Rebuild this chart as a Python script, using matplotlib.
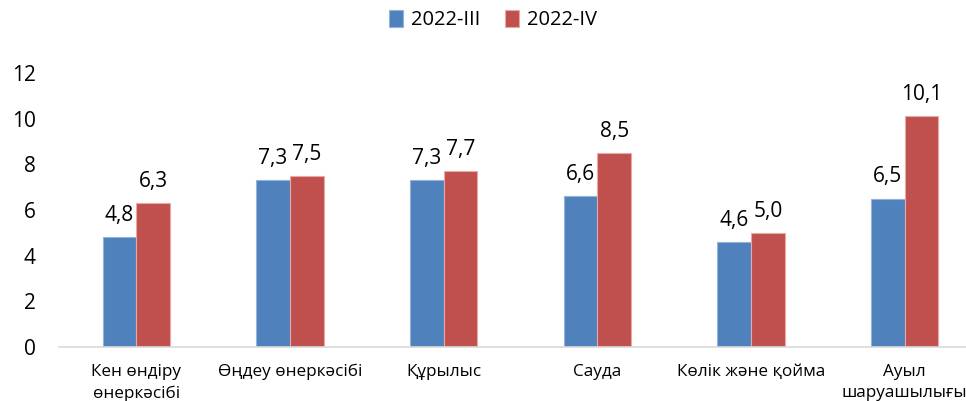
import numpy as np
import matplotlib.pyplot as plt

categories = ['Кен өндіру\nөнеркәсібі', 'Өңдеу өнеркәсібі', 'Құрылыс',
              'Сауда', 'Көлік және қойма', 'Ауыл\nшаруашылығы']
q3 = [4.8, 7.3, 7.3, 6.6, 4.6, 6.5]
q4 = [6.3, 7.5, 7.7, 8.5, 5.0, 10.1]
series_names = ['2022-III', '2022-IV']
yticks = [0, 2, 4, 6, 8, 10, 12]

plt.rcParams['font.family'] = ['Open Sans', 'DejaVu Sans']

fig = plt.figure(figsize=(9.66, 4.01), dpi=100)
ax = fig.add_axes([59.5 / 966, 54 / 401, 922 / 966, 274 / 401])

x = np.arange(len(categories))
w = 0.22
b1 = ax.bar(x - w / 2, q3, w, color='#4F81BD', edgecolor='#95B3D7', linewidth=0.8,
            label=series_names[0])
b2 = ax.bar(x + w / 2, q4, w, color='#C0504D', edgecolor='#E6A9A7', linewidth=0.8,
            label=series_names[1])

for bars, vals in ((b1, q3), (b2, q4)):
    for r, v in zip(bars, vals):
        ax.annotate(f'{v:.1f}'.replace('.', ','), (r.get_x() + r.get_width() / 2, v),
                    xytext=(0, 8), textcoords='offset points', ha='center', va='bottom',
                    fontsize=15, color='#000000')

ax.set_xlim(-0.5, len(categories) - 0.5)
ax.set_ylim(0, 12)
ax.set_yticks(yticks)
ax.set_xticks(x)
ax.set_xticklabels(categories, fontsize=12.3, linespacing=1.45)
ax.tick_params(axis='y', length=0, pad=17, labelsize=15)
ax.tick_params(axis='x', length=0, pad=12)

for s in ['top', 'right', 'left']:
    ax.spines[s].set_visible(False)
ax.spines['bottom'].set_color('#D9D9D9')
ax.spines['bottom'].set_linewidth(1.2)

fig.legend(loc='center', bbox_to_anchor=(493 / 966, 1 - 20 / 401), ncol=2, frameon=False,
           fontsize=14.5, handlelength=0.7, handleheight=0.9, columnspacing=1.2,
           handletextpad=0.4)

fig.savefig('out.png', dpi=100)
